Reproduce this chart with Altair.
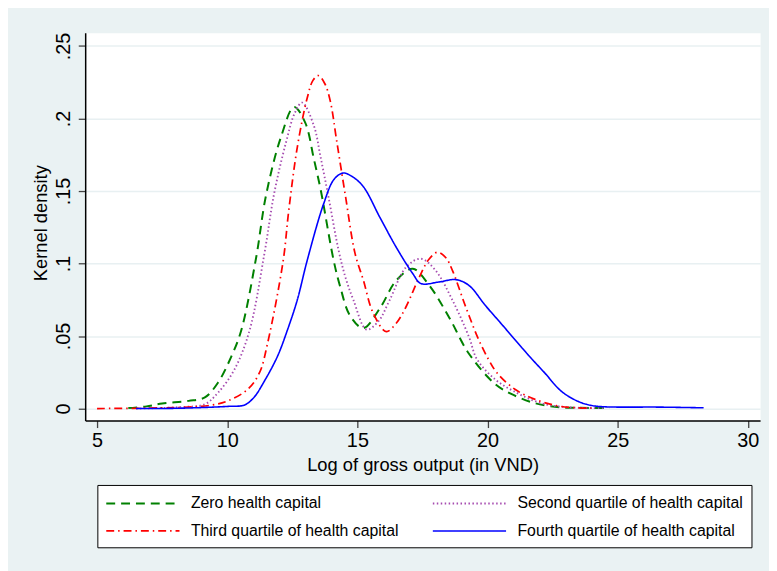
import altair as alt
import pandas as pd

# ---- data ----
series_names = [
    "Zero health capital",
    "Second quartile of health capital",
    "Third quartile of health capital",
    "Fourth quartile of health capital",
]

zero_x = [6.2, 6.9, 7.5, 8.52, 9.14, 9.65, 10.16, 10.54, 11.11, 11.49, 12.06, 12.57, 13.0, 13.33, 13.6,
          14.09, 14.34, 14.72, 15.23, 15.86, 16.5, 17.13, 17.76, 18.52, 19.28, 20.3, 20.93, 21.8, 22.8, 23.5, 24.7]
zero_y = [0.0003, 0.0015, 0.0035, 0.0053, 0.0077, 0.018, 0.036, 0.054, 0.104, 0.147, 0.187, 0.208, 0.197, 0.172, 0.150,
          0.102, 0.084, 0.064, 0.0555, 0.069, 0.0885, 0.0964, 0.085, 0.063, 0.038, 0.0167, 0.0099, 0.0038, 0.0008, 0.0005, 0.0003]

second_x = [6.5, 8.2, 9.14, 9.65, 10.28, 10.86, 11.43, 11.8, 12.25, 12.6, 12.88, 13.33, 13.58, 13.9, 14.28, 14.55,
            14.85, 15.35, 15.8, 16.24, 16.87, 17.44, 18.0, 18.65, 19.28, 19.6, 20.3, 21.0, 22.0, 23.0, 24.5]
second_y = [0.0, 0.001, 0.003, 0.011, 0.027, 0.054, 0.107, 0.148, 0.183, 0.204, 0.211, 0.195, 0.174, 0.145, 0.109, 0.090,
            0.0748, 0.0545, 0.060, 0.0748, 0.0975, 0.1033, 0.0953, 0.0748, 0.0497, 0.0338, 0.020, 0.012, 0.004, 0.001, 0.0003]

third_x = [5.0, 7.0, 8.5, 9.4, 10.03, 10.79, 11.24, 11.55, 12.15, 12.36, 12.69, 13.07, 13.3, 13.5, 13.75, 13.96,
           14.21, 14.53, 14.91, 15.23, 15.61, 16.11, 16.5, 16.87, 17.38, 17.75, 18.08, 18.4, 18.65, 19.16, 19.66,
           20.04, 20.36, 21.05, 21.8, 22.8, 24.0]
third_y = [0.0, 0.0003, 0.001, 0.0024, 0.0053, 0.0133, 0.0247, 0.045, 0.102, 0.136, 0.180, 0.214, 0.2265, 0.2296,
           0.224, 0.212, 0.184, 0.148, 0.107, 0.0885, 0.0657, 0.0531, 0.059, 0.0702, 0.0907, 0.103, 0.1078, 0.104,
           0.0953, 0.0702, 0.0475, 0.0338, 0.0247, 0.0133, 0.0065, 0.0015, 0.0003]

fourth_x = [6.5, 8.1, 10.03, 10.67, 11.04, 11.43, 11.93, 12.31, 12.69, 13.07, 13.7, 14.1, 14.45, 14.8, 15.23,
            15.86, 16.5, 17.13, 17.44, 18.14, 18.78, 19.28, 19.92, 20.55, 21.56, 22.2, 22.83, 23.47, 23.97,
            24.5, 25.5, 26.5, 28.3]
fourth_y = [0.0, 0.0002, 0.0015, 0.0025, 0.008, 0.019, 0.036, 0.054, 0.0748, 0.102, 0.141, 0.158, 0.1624, 0.160, 0.153,
            0.132, 0.111, 0.093, 0.0862, 0.0873, 0.0889, 0.085, 0.071, 0.058, 0.037, 0.0245, 0.012, 0.005, 0.0022,
            0.0012, 0.001, 0.001, 0.0005]

x_ticks = [5, 10, 15, 20, 25, 30]
y_ticks = [0, 0.05, 0.1, 0.15, 0.2, 0.25]

# ---- styles ----
colors = ["#008000", "#A64CB0", "#FF0000", "#0000FF"]
dashes = [[9, 6], [1.5, 2.5], [8, 4, 1.5, 4], [1, 0]]
widths = [2, 1.6, 2, 2]

rows = []
for name, xs, ys in zip(series_names,
                        [zero_x, second_x, third_x, fourth_x],
                        [zero_y, second_y, third_y, fourth_y]):
    for i, (a, b) in enumerate(zip(xs, ys)):
        rows.append({"group": name, "x": a, "y": b, "i": i})
df = pd.DataFrame(rows)

FONT = "Liberation Sans"

chart = alt.Chart(df).mark_line(interpolate="catmull-rom", strokeCap="butt").encode(
    x=alt.X("x:Q",
            scale=alt.Scale(domain=[4.544, 30.47], nice=False, zero=False),
            axis=alt.Axis(values=x_ticks, title="Log of gross output (in VND)", grid=False,
                          labelFontSize=20, labelBaseline="top", labelPadding=3,
                          titleFontSize=18.5, titleBaseline="alphabetic", titleY=50,
                          format="d")),
    y=alt.Y("y:Q",
            scale=alt.Scale(domain=[-0.00833, 0.2592], nice=False, zero=False),
            axis=alt.Axis(values=y_ticks, title="Kernel density", grid=True,
                          labelExpr="datum.value == 0 ? '0' : substring(format(datum.value, '.2~f'), 1)",
                          labelAngle=270, labelAlign="center", labelBaseline="alphabetic",
                          labelPadding=8.5, labelFontSize=20,
                          titleFontSize=18.5, titleAngle=270, titleAlign="center",
                          titleBaseline="alphabetic", titleX=-39, titleY=192)),
    color=alt.Color("group:N",
                    scale=alt.Scale(domain=series_names, range=colors),
                    legend=alt.Legend(
                        title=None, orient="none", legendX=12.3, legendY=457,
                        direction="horizontal",
                        columns=2, columnPadding=30, rowPadding=9, padding=8,
                        symbolType="M-3.895,0H3.895", symbolSize=361, symbolOffset=27.5,
                        labelOffset=38, symbolStrokeWidth=2,
                        labelFontSize=16, labelFont=FONT, labelLimit=0,
                        fillColor="white", strokeColor="black", cornerRadius=0)),
    strokeDash=alt.StrokeDash("group:N",
                              scale=alt.Scale(domain=series_names, range=dashes),
                              legend=alt.Legend(title=None)),
    strokeWidth=alt.StrokeWidth("group:N",
                                scale=alt.Scale(domain=series_names, range=widths),
                                legend=None),
    order="i:Q",
).properties(
    width=682, height=392,
    autosize=alt.AutoSizeParams(type="none"),
    padding={"left": 78, "top": 22, "right": 9, "bottom": 149},
    background="#EAF2F3",
).configure_view(
    fill="white", stroke="transparent"
).configure_axis(
    labelFont=FONT, titleFont=FONT, labelColor="black", titleColor="black",
    titleFontWeight="normal",
    domainColor="black", domainWidth=1.5,
    tickColor="#444444", tickWidth=1.3, tickSize=7,
    gridColor="#E8F0F2", gridWidth=1.5,
)

chart.save("out.html", embed_options={"renderer": "svg", "actions": False})
